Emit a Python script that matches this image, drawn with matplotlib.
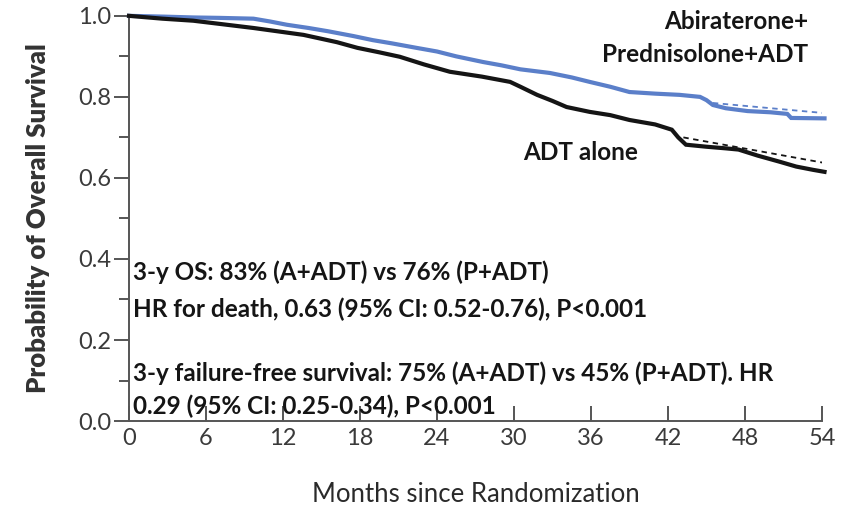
import matplotlib
matplotlib.use("Agg")
import matplotlib.pyplot as plt
from matplotlib.ticker import MultipleLocator

# Kaplan-Meier estimates (months, survival probability)
abi_months = [0, 2.8, 5, 7, 9.7, 11, 12.3, 14, 15.5, 17.5, 19, 20.5, 22.4, 24, 25.5,
              27.6, 29, 30.5, 32.8, 34.5, 35.9, 37.5, 39, 41, 42.9, 44.5, 45.0, 45.5,
              46.5, 48.2, 50, 51.3, 51.6, 54.2]
abi_surv = [1.0, 0.998, 0.996, 0.995, 0.993, 0.986, 0.978, 0.970, 0.962, 0.950, 0.940,
            0.932, 0.921, 0.912, 0.900, 0.886, 0.878, 0.868, 0.859, 0.848, 0.837, 0.825,
            0.812, 0.808, 0.805, 0.800, 0.792, 0.780, 0.772, 0.765, 0.762, 0.758, 0.748,
            0.747]

adt_months = [0, 2.6, 5, 7.1, 9.7, 12, 13.6, 16.2, 17.8, 19.5, 21.1, 23, 25, 27.5,
              29.7, 30.5, 31.8, 33, 34.1, 35.9, 37.5, 39, 41, 42.3, 42.8, 43.4, 45, 46.5,
              47.5, 49, 50.7, 52, 53.3, 54.2]
adt_surv = [1.0, 0.993, 0.988, 0.980, 0.970, 0.960, 0.953, 0.935, 0.921, 0.910, 0.899,
            0.880, 0.862, 0.850, 0.837, 0.825, 0.805, 0.790, 0.775, 0.763, 0.755, 0.743,
            0.732, 0.719, 0.700, 0.682, 0.677, 0.673, 0.670, 0.655, 0.640, 0.628, 0.620,
            0.615]

# projected trend lines at the tail
abi_proj_months = [45.5, 54.2]
abi_proj = [0.785, 0.760]
adt_proj_months = [43.2, 54.2]
adt_proj = [0.700, 0.637]

x_ticks = [0, 6, 12, 18, 24, 30, 36, 42, 48, 54]
y_ticks = [0.0, 0.2, 0.4, 0.6, 0.8, 1.0]

notes = [
    (0.3, 0.368, "3-y OS: 83% (A+ADT) vs 76% (P+ADT)"),
    (0.3, 0.277, "HR for death, 0.63 (95% CI: 0.52-0.76), P<0.001"),
    (0.3, 0.119, "3-y failure-free survival: 75% (A+ADT) vs 45% (P+ADT). HR"),
    (0.3, 0.037, "0.29 (95% CI: 0.25-0.34), P<0.001"),
]

BLUE = "#5b7fc9"
INK = "#151515"
AXIS = "#555555"
TICK_FONT = ["Lato", "DejaVu Sans"]
BOLD_FONT = ["Lato", "DejaVu Sans"]

fig = plt.figure(figsize=(8.5, 5.11), dpi=100)
ax = fig.add_axes([0.1518, 0.176, 0.8152, 0.793])

ax.plot(abi_months, abi_surv, color=BLUE, lw=3.0, solid_joinstyle="miter",
        clip_on=False, zorder=3)
ax.plot(adt_months, adt_surv, color=INK, lw=3.0, solid_joinstyle="miter",
        clip_on=False, zorder=3)
ax.plot(abi_proj_months, abi_proj, color=BLUE, lw=1.3, ls=(0, (3, 2.5)), zorder=4)
ax.plot(adt_proj_months, adt_proj, color=INK, lw=1.3, ls=(0, (3, 2.5)), zorder=4)

ax.set_xlim(0, 54)
ax.set_ylim(0, 1.0)
for side in ("top", "right"):
    ax.spines[side].set_visible(False)
for side in ("left", "bottom"):
    ax.spines[side].set_color(AXIS)
    ax.spines[side].set_linewidth(1.4)

ax.set_xticks(x_ticks)
ax.set_xticklabels([str(t) for t in x_ticks], family=TICK_FONT, fontsize=17, color="#3a3a3a")
ax.set_yticks(y_ticks)
ax.set_yticklabels([f"{t:.1f}" for t in y_ticks], family=TICK_FONT, fontsize=17, color="#3a3a3a")
ax.yaxis.set_minor_locator(MultipleLocator(0.1))
ax.tick_params(axis="x", direction="in", length=11, width=1.4, color=AXIS, pad=5)
ax.tick_params(axis="y", which="major", direction="out", length=11, width=1.4, color=AXIS, pad=2)
ax.tick_params(axis="y", which="minor", direction="out", length=7, width=1.4, color=AXIS)

ax.set_ylabel("Probability of Overall Survival", family=BOLD_FONT, fontweight="heavy",
              fontsize=18.5, color="#333333", labelpad=20)
ax.set_xlabel("Months since Randomization", family=TICK_FONT, fontsize=18.5,
              color="#2a2a2a", labelpad=24)

bold = dict(family=BOLD_FONT, fontweight="bold", fontsize=17.5, color=INK)
ax.text(52.9, 0.985, "Abiraterone+", ha="right", va="center", **bold)
ax.text(52.9, 0.904, "Prednisolone+ADT", ha="right", va="center", **bold)
ax.text(30.7, 0.662, "ADT alone", ha="left", va="center", **bold)
for x, y, s in notes:
    ax.text(x, y, s, ha="left", va="center", **bold)

fig.savefig("out.png", dpi=100)
